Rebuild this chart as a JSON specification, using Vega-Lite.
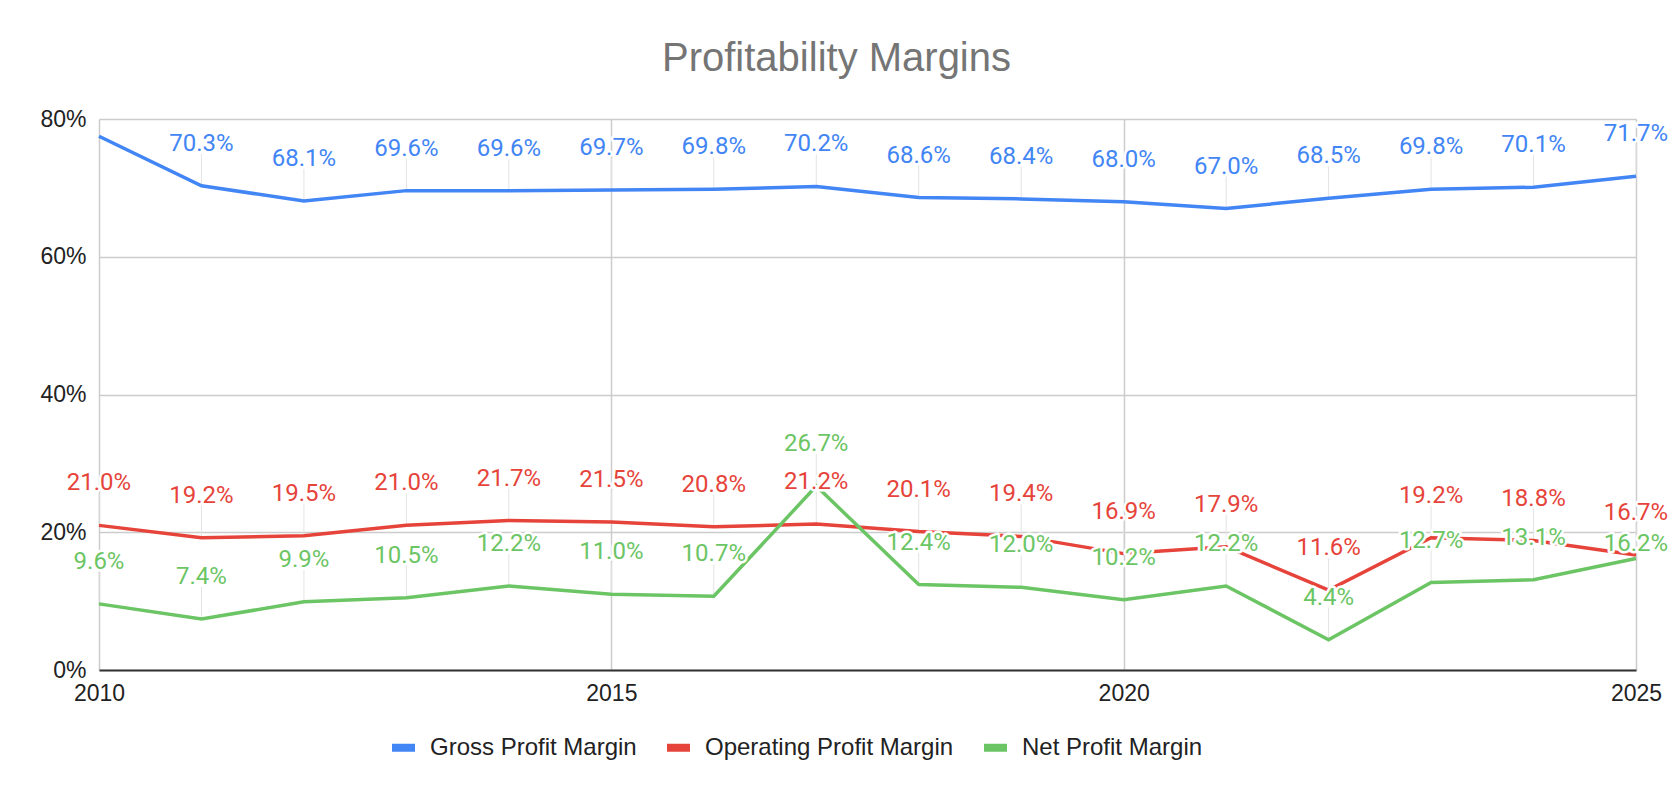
{
  "$schema": "https://vega.github.io/schema/vega-lite/v6.json",
  "width": 1537,
  "height": 551,
  "autosize": {"type": "none"},
  "padding": {"left": 99, "top": 119, "right": 38, "bottom": 128},
  "background": "white",
  "title": {
    "text": "Profitability Margins",
    "font": "Liberation Sans",
    "fontSize": 40,
    "fontWeight": "normal",
    "color": "#757575",
    "anchor": "middle",
    "dx": -31,
    "offset": 29
  },
  "config": {
    "view": {"stroke": null},
    "axis": {"labelFont": "Liberation Sans", "labelFontSize": 23, "labelColor": "#222222"}
  },
  "data": {
    "values": [
      {"year": 2010, "series": "Gross Profit Margin", "value": 0.775},
      {"year": 2011, "series": "Gross Profit Margin", "value": 0.703},
      {"year": 2012, "series": "Gross Profit Margin", "value": 0.681},
      {"year": 2013, "series": "Gross Profit Margin", "value": 0.696},
      {"year": 2014, "series": "Gross Profit Margin", "value": 0.696},
      {"year": 2015, "series": "Gross Profit Margin", "value": 0.697},
      {"year": 2016, "series": "Gross Profit Margin", "value": 0.698},
      {"year": 2017, "series": "Gross Profit Margin", "value": 0.702},
      {"year": 2018, "series": "Gross Profit Margin", "value": 0.686},
      {"year": 2019, "series": "Gross Profit Margin", "value": 0.684},
      {"year": 2020, "series": "Gross Profit Margin", "value": 0.680},
      {"year": 2021, "series": "Gross Profit Margin", "value": 0.670},
      {"year": 2022, "series": "Gross Profit Margin", "value": 0.685},
      {"year": 2023, "series": "Gross Profit Margin", "value": 0.698},
      {"year": 2024, "series": "Gross Profit Margin", "value": 0.701},
      {"year": 2025, "series": "Gross Profit Margin", "value": 0.717},
      {"year": 2010, "series": "Operating Profit Margin", "value": 0.210},
      {"year": 2011, "series": "Operating Profit Margin", "value": 0.192},
      {"year": 2012, "series": "Operating Profit Margin", "value": 0.195},
      {"year": 2013, "series": "Operating Profit Margin", "value": 0.210},
      {"year": 2014, "series": "Operating Profit Margin", "value": 0.217},
      {"year": 2015, "series": "Operating Profit Margin", "value": 0.215},
      {"year": 2016, "series": "Operating Profit Margin", "value": 0.208},
      {"year": 2017, "series": "Operating Profit Margin", "value": 0.212},
      {"year": 2018, "series": "Operating Profit Margin", "value": 0.201},
      {"year": 2019, "series": "Operating Profit Margin", "value": 0.194},
      {"year": 2020, "series": "Operating Profit Margin", "value": 0.169},
      {"year": 2021, "series": "Operating Profit Margin", "value": 0.179},
      {"year": 2022, "series": "Operating Profit Margin", "value": 0.116},
      {"year": 2023, "series": "Operating Profit Margin", "value": 0.192},
      {"year": 2024, "series": "Operating Profit Margin", "value": 0.188},
      {"year": 2025, "series": "Operating Profit Margin", "value": 0.167},
      {"year": 2010, "series": "Net Profit Margin", "value": 0.096},
      {"year": 2011, "series": "Net Profit Margin", "value": 0.074},
      {"year": 2012, "series": "Net Profit Margin", "value": 0.099},
      {"year": 2013, "series": "Net Profit Margin", "value": 0.105},
      {"year": 2014, "series": "Net Profit Margin", "value": 0.122},
      {"year": 2015, "series": "Net Profit Margin", "value": 0.110},
      {"year": 2016, "series": "Net Profit Margin", "value": 0.107},
      {"year": 2017, "series": "Net Profit Margin", "value": 0.267},
      {"year": 2018, "series": "Net Profit Margin", "value": 0.124},
      {"year": 2019, "series": "Net Profit Margin", "value": 0.120},
      {"year": 2020, "series": "Net Profit Margin", "value": 0.102},
      {"year": 2021, "series": "Net Profit Margin", "value": 0.122},
      {"year": 2022, "series": "Net Profit Margin", "value": 0.044},
      {"year": 2023, "series": "Net Profit Margin", "value": 0.127},
      {"year": 2024, "series": "Net Profit Margin", "value": 0.131},
      {"year": 2025, "series": "Net Profit Margin", "value": 0.162}
    ]
  },
  "encoding": {
    "x": {
      "field": "year",
      "type": "quantitative",
      "scale": {"domain": [2010, 2025], "nice": false, "zero": false},
      "axis": {
        "title": null,
        "values": [2010, 2015, 2020, 2025],
        "format": "d",
        "ticks": false,
        "labelPadding": 12,
        "grid": true,
        "gridColor": "#cccccc",
        "gridWidth": 1.5,
        "domainColor": "#333333",
        "domainWidth": 2,
        "labelFlush": false
      }
    },
    "y": {
      "field": "value",
      "type": "quantitative",
      "scale": {"domain": [0, 0.8], "nice": false},
      "axis": {
        "title": null,
        "values": [0, 0.2, 0.4, 0.6, 0.8],
        "format": ".0%",
        "ticks": false,
        "domain": false,
        "labelPadding": 13,
        "gridColor": "#cccccc",
        "gridWidth": 1.5,
        "labelBaseline": "middle"
      }
    }
  },
  "layer": [
    {
      "transform": [{"filter": "datum.value < 0.75 && !(datum.year == 2025 && datum.series == 'Net Profit Margin')"}],
      "mark": {"type": "rule", "color": "#e3e3e3", "strokeWidth": 1, "y2Offset": -32},
      "encoding": {"y2": {"field": "value"}}
    },
    {
      "mark": {"type": "line", "strokeWidth": 3.5},
      "encoding": {
        "color": {
          "field": "series",
          "type": "nominal",
          "sort": null,
          "scale": {
            "domain": ["Gross Profit Margin", "Operating Profit Margin", "Net Profit Margin"],
            "range": ["#4285F4", "#E6443A", "#6CC564"]
          },
          "legend": {
            "title": null,
            "orient": "none",
            "legendX": 289,
            "legendY": 613,
            "direction": "horizontal",
            "symbolType": "stroke",
            "symbolSize": 529,
            "symbolStrokeWidth": 8,
            "labelFont": "Liberation Sans",
            "labelFontSize": 24,
            "labelColor": "#222222",
            "labelLimit": 400,
            "labelOffset": 11,
            "columnPadding": 14
          }
        }
      }
    },
    {
      "transform": [{"filter": "datum.value < 0.75 && !(datum.year == 2025 && datum.series == 'Net Profit Margin')"}],
      "mark": {
        "type": "text",
        "dy": -42,
        "baseline": "middle",
        "font": "Roboto",
        "fontSize": 24,
        "fill": "white",
        "stroke": "white",
        "strokeWidth": 5,
        "strokeJoin": "round"
      },
      "encoding": {"text": {"field": "value", "type": "quantitative", "format": ".1%"}}
    },
    {
      "transform": [{"filter": "datum.value < 0.75 && !(datum.year == 2025 && datum.series == 'Net Profit Margin')"}],
      "mark": {"type": "text", "dy": -42, "baseline": "middle", "font": "Roboto", "fontSize": 24},
      "encoding": {
        "text": {"field": "value", "type": "quantitative", "format": ".1%"},
        "color": {"field": "series", "type": "nominal", "sort": null}
      }
    },
    {
      "transform": [{"filter": "datum.year == 2025 && datum.series == 'Net Profit Margin'"}],
      "mark": {
        "type": "text",
        "dy": -14,
        "baseline": "middle",
        "font": "Roboto",
        "fontSize": 24,
        "fill": "white",
        "stroke": "white",
        "strokeWidth": 5,
        "strokeJoin": "round"
      },
      "encoding": {"text": {"field": "value", "type": "quantitative", "format": ".1%"}}
    },
    {
      "transform": [{"filter": "datum.year == 2025 && datum.series == 'Net Profit Margin'"}],
      "mark": {"type": "text", "dy": -14, "baseline": "middle", "font": "Roboto", "fontSize": 24},
      "encoding": {
        "text": {"field": "value", "type": "quantitative", "format": ".1%"},
        "color": {"field": "series", "type": "nominal", "sort": null}
      }
    }
  ]
}
